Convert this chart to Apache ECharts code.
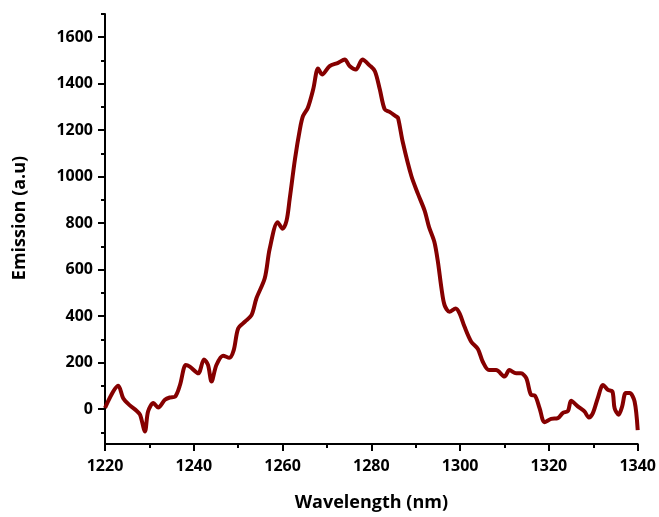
<!DOCTYPE html>
<html>
<head>
<meta charset="utf-8">
<script src="https://cdn.jsdelivr.net/npm/echarts@6/dist/echarts.min.js"></script>
<style>
  html, body { margin: 0; padding: 0; background: #fff; }
  #chart { width: 659px; height: 517px; }
</style>
</head>
<body>
<div id="chart"></div>
<script>
// values
const wavelength = [1220, 1223.0, 1224.1, 1225.6, 1227.1, 1227.9, 1229.0, 1229.7, 1230.9, 1232.0,
  1233.5, 1234.6, 1235.8, 1236.9, 1238.2, 1239.1, 1241.0, 1242.3, 1243.2, 1244.0,
  1245.1, 1246.6, 1248.0, 1249.0, 1250.0, 1251.5, 1253.0, 1254.1, 1256.0, 1257.1,
  1258.9, 1260.0, 1260.9, 1261.6, 1262.8, 1263.9, 1264.6, 1265.7, 1266.9, 1268.0,
  1268.9, 1270.6, 1272.5, 1274.0, 1275.1, 1276.5, 1278.0, 1279.6, 1280.8, 1281.9,
  1283.0, 1284.1, 1285.6, 1286.0, 1287.1, 1289.0, 1290.5, 1292.0, 1293.0, 1294.2,
  1295.0, 1295.8, 1296.5, 1297.6, 1299.0, 1299.9, 1301.0, 1302.5, 1304.0, 1305.1,
  1306.5, 1308.1, 1310.0, 1311.1, 1312.6, 1313.7, 1314.9, 1316.0, 1316.8, 1317.9,
  1319.0, 1320.5, 1322.0, 1323.1, 1324.3, 1325.0, 1326.5, 1328.0, 1329.0, 1329.9,
  1331.0, 1332.2, 1333.3, 1334.3, 1334.8, 1335.7, 1336.5, 1337.3, 1338.2, 1339.3, 1340];
const emission = [5, 101, 47, 16, -7, -24, -96, -10, 26, 7,
  40, 50, 54, 104, 190, 183, 154, 214, 190, 119,
  190, 230, 221, 254, 347, 376, 404, 476, 564, 690,
  804, 776, 811, 904, 1076, 1204, 1261, 1297, 1376, 1466,
  1440, 1476, 1490, 1504, 1476, 1461, 1504, 1479, 1454, 1376,
  1290, 1279, 1259, 1254, 1147, 1004, 926, 854, 783, 719,
  633, 519, 447, 419, 433, 411, 354, 290, 259, 204,
  168, 168, 140, 168, 154, 154, 133, 61, 59, 4,
  -56, -42, -39, -17, -7, 36, 12, -10, -36, -17,
  47, 104, 83, 76, 4, -24, 12, 69, 69, 33, -90];

// tick labels
const yMajor = [0, 200, 400, 600, 800, 1000, 1200, 1400, 1600];
const yMinor = [-100, 100, 300, 500, 700, 900, 1100, 1300, 1500, 1700];

const font = '"Open Sans", "Liberation Sans", sans-serif';
const axisColor = '#000';

const chart = echarts.init(document.getElementById('chart'));

const option = {
  animation: false,
  backgroundColor: '#fff',
  grid: { left: 105, right: 21, top: 14, bottom: 71 },
  xAxis: {
    type: 'value',
    min: 1220,
    max: 1340,
    interval: 20,
    name: 'Wavelength (nm)',
    nameLocation: 'middle',
    nameGap: 50,
    nameTextStyle: { fontFamily: font, fontWeight: 'bold', fontSize: 18, color: '#000' },
    axisLine: { onZero: false, lineStyle: { color: axisColor, width: 2 } },
    axisTick: { length: 7, lineStyle: { color: axisColor, width: 2 } },
    minorTick: { show: true, splitNumber: 2, length: 4, lineStyle: { color: axisColor, width: 2 } },
    axisLabel: {
      fontFamily: font, fontWeight: 'bold', fontSize: 16, color: '#000', margin: 14,
      formatter: v => String(v)
    },
    splitLine: { show: false }
  },
  yAxis: [
    {
      type: 'value',
      min: -150,
      max: 1700,
      name: 'Emission (a.u)',
      nameLocation: 'middle',
      nameGap: 76,
      nameTextStyle: { fontFamily: font, fontWeight: 'bold', fontSize: 18, color: '#000', padding: [0, 0, 0, 22] },
      axisLine: { lineStyle: { color: axisColor, width: 2 } },
      axisTick: { length: 7, customValues: yMajor, lineStyle: { color: axisColor, width: 2 } },
      axisLabel: {
        customValues: yMajor, fontFamily: font, fontWeight: 'bold', fontSize: 16, color: '#000', margin: 12,
        formatter: v => String(v)
      },
      splitLine: { show: false }
    },
    {
      // second axis only for the minor ticks
      type: 'value',
      min: -150,
      max: 1700,
      position: 'left',
      axisLine: { show: false },
      axisTick: { show: true, length: 4, customValues: yMinor, lineStyle: { color: axisColor, width: 2 } },
      axisLabel: { show: false },
      splitLine: { show: false }
    }
  ],
  series: [
    {
      type: 'line',
      yAxisIndex: 0,
      data: wavelength.map((w, i) => [w, emission[i]]),
      showSymbol: false,
      smooth: 0.3,
      lineStyle: { color: '#850000', width: 4 }
    }
  ]
};

chart.setOption(option);
</script>
</body>
</html>
